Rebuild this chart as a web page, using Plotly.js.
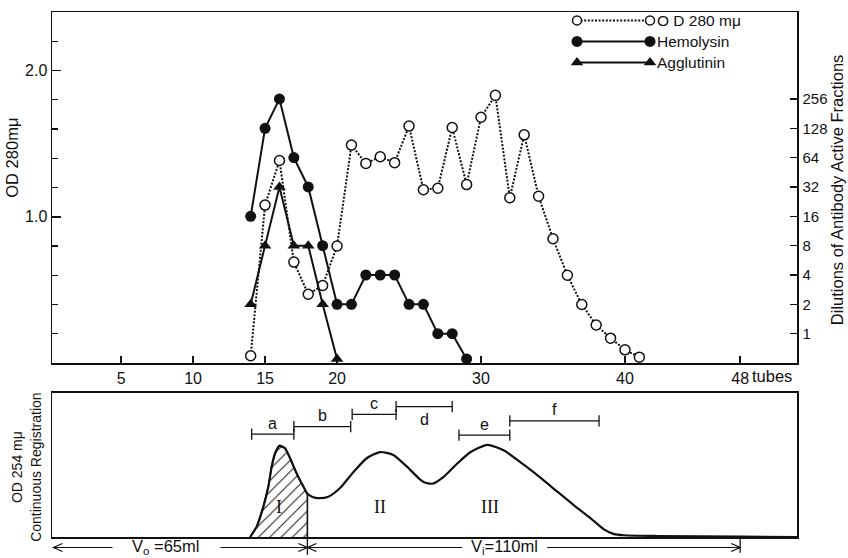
<!DOCTYPE html>
<html>
<head>
<meta charset="utf-8">
<script src="https://cdn.plot.ly/plotly-3.0.1.min.js"></script>
<style>
  html, body { margin: 0; padding: 0; background: #fff; }
  #chart { width: 848px; height: 558px; }
</style>
</head>
<body>
<div id="chart"></div>
<script>
// ---- Fraction assays (tube numbers) ----
const tubesOD = [14, 15, 16, 17, 18, 19, 20, 21, 22, 23, 24, 25, 26, 27, 28, 29, 30, 31, 32, 33, 34, 35, 36, 37, 38, 39, 40, 41];
const od280 = [0.05, 1.08, 1.385, 0.69, 0.47, 0.53, 0.80, 1.49, 1.365, 1.41, 1.37, 1.62, 1.185, 1.195, 1.61, 1.22, 1.68, 1.83, 1.13, 1.56, 1.14, 0.85, 0.60, 0.40, 0.26, 0.17, 0.09, 0.04];

const tubesHemolysin = [14, 15, 16, 17, 18, 19, 20, 21, 22, 23, 24, 25, 26, 27, 28, 29];
const hemolysin = [16, 128, 256, 64, 32, 8, 2, 2, 4, 4, 4, 2, 2, 1, 1, 0.55];

const tubesAgglutinin = [14, 15, 16, 17, 18, 19, 20];
const agglutinin = [2, 8, 32, 8, 8, 2, 0.55];

// ---- Tick labels ----
const tubeTicks = [5, 10, 15, 20, 30, 40, 48];
const tubeTickText = ['5', '10', '15', '20', '30', '40', '48'];
const odTicks = [1, 2];
const odTickText = ['1.0', '2.0'];
const dilutionTicks = [1, 2, 4, 8, 16, 32, 64, 128, 256];

// ---- Continuous OD 254 recording (x in tube units) ----
const recTube = [13.96, 14.42, 14.88, 15.23, 15.46, 15.69, 15.99, 16.39, 16.74, 17.2, 17.66, 17.94,
  18.3, 18.7, 19.4, 20.21, 21.13, 22.06, 22.99, 23.91, 24.84, 25.76, 26.04, 26.62, 27.43, 28.35,
  29.28, 30.44, 31.6, 32.99, 34.15, 35.3, 36.46, 37.62, 38.54, 39.24, 39.93, 42.24, 48.03, 51.95];
const recOD254 = [0, 0.072, 0.21, 0.35, 0.49, 0.58, 0.634, 0.616, 0.547, 0.44, 0.35, 0.30,
  0.278, 0.27, 0.28, 0.34, 0.45, 0.547, 0.59, 0.57, 0.49, 0.40, 0.38, 0.37, 0.42, 0.51,
  0.59, 0.64, 0.60, 0.50, 0.41, 0.315, 0.22, 0.13, 0.053, 0.02, 0.012, 0.007, 0.002, 0];

const voidTube = 17.94;   // end of V0 = 65 ml
const lastTube = 48;      // end of Vi = 110 ml
const voidLabel = 'V<sub>o</sub> =65ml';
const innerLabel = 'V<sub>i</sub>=110ml';

// Pooled fractions a–f (tube ranges)
const poolNames = ['a', 'b', 'c', 'd', 'e', 'f'];
const poolStart = [14.07, 17.0, 21.05, 24.1, 28.47, 32.0];
const poolEnd = [17.0, 20.95, 24.1, 28.0, 32.0, 38.2];

const peakNames = ['I', 'II', 'III'];

// ---- Styling ----
const FONT = '"Liberation Sans", Arial, sans-serif';
const SERIF = '"Liberation Serif", "DejaVu Serif", serif';
const INK = '#111';
const tubeRange = [0.2, 51.95];

// Placement of the pool bars / numerals inside the recorder panel
const poolLevel = [0.715, 0.767, 0.852, 0.905, 0.708, 0.807];
const poolLabelShift = [11, 11, 11, -13, 11, 11];
const peakAt = [16.0, 23.0, 30.6];

const traces = [];

// OD 280 (left axis), dotted with open circles
traces.push({
  x: tubesOD, y: od280, xaxis: 'x', yaxis: 'y', type: 'scatter', mode: 'lines+markers',
  line: { color: INK, width: 2, dash: '2px,1.6px' },
  marker: { symbol: 'circle', size: 10, color: '#fff', line: { color: INK, width: 1.5 } },
  cliponaxis: false, showlegend: false
});
// Hemolysin (right, log2 dilutions)
traces.push({
  x: tubesHemolysin, y: hemolysin, xaxis: 'x', yaxis: 'y2', type: 'scatter', mode: 'lines+markers',
  line: { color: INK, width: 2 },
  marker: { symbol: 'circle', size: 11, color: INK },
  cliponaxis: false, showlegend: false
});
// Agglutinin
traces.push({
  x: tubesAgglutinin, y: agglutinin, xaxis: 'x', yaxis: 'y2', type: 'scatter', mode: 'lines+markers',
  line: { color: INK, width: 2 },
  marker: { symbol: 'triangle-up', size: 11, color: INK },
  cliponaxis: false, showlegend: false
});

// Hatched peak I up to V0
const hatchX = [], hatchY = [];
recTube.forEach((t, i) => { if (t <= voidTube) { hatchX.push(t); hatchY.push(recOD254[i]); } });
hatchX.push(voidTube); hatchY.push(0);
traces.push({
  x: hatchX, y: hatchY, xaxis: 'x2', yaxis: 'y3', type: 'scatter', mode: 'lines',
  fill: 'toself', fillcolor: 'rgba(0,0,0,0)',
  fillpattern: { shape: '/', fgcolor: INK, bgcolor: 'rgba(255,255,255,0)', size: 8, solidity: 0.12 },
  line: { color: INK, width: 1.6 }, showlegend: false, hoverinfo: 'skip'
});
// Recorder trace
traces.push({
  x: recTube, y: recOD254, xaxis: 'x2', yaxis: 'y3', type: 'scatter', mode: 'lines',
  line: { color: INK, width: 2.2, shape: 'spline', smoothing: 0.6 }, showlegend: false
});
// Pool bars
poolNames.forEach((n, i) => {
  traces.push({
    x: [poolStart[i], poolEnd[i]], y: [poolLevel[i], poolLevel[i]], xaxis: 'x2', yaxis: 'y3',
    type: 'scatter', mode: 'lines+markers',
    line: { color: INK, width: 1.2 },
    marker: { symbol: 'line-ns', size: 8, line: { color: INK, width: 1.3 } },
    showlegend: false, cliponaxis: false
  });
});

// Legend samples drawn on a small overlay axis
const legendRows = [
  { name: 'O D 280 m\u03bc', line: { color: INK, width: 2, dash: '2px,1.6px' },
    marker: { symbol: 'circle', size: 9, color: '#fff', line: { color: INK, width: 1.5 } } },
  { name: 'Hemolysin', line: { color: INK, width: 2 },
    marker: { symbol: 'circle', size: 11, color: INK } },
  { name: 'Agglutinin', line: { color: INK, width: 2 },
    marker: { symbol: 'triangle-up', size: 11, color: INK } }
];
legendRows.forEach((r, i) => {
  traces.push({
    x: [0, 1], y: [i, i], xaxis: 'x3', yaxis: 'y4', type: 'scatter', mode: 'lines+markers',
    line: r.line, marker: r.marker, showlegend: false, cliponaxis: false, hoverinfo: 'skip'
  });
});

const annotations = [];
const txt = (o, size) => Object.assign({ showarrow: false, xanchor: 'center', yanchor: 'middle',
  font: { family: FONT, size: size || 16, color: INK } }, o);

legendRows.forEach((r, i) => {
  annotations.push(txt({ text: r.name, xref: 'paper', yref: 'y4', x: 0.809, y: i, xanchor: 'left' }, 15.5));
});

// Axis titles
annotations.push(txt({ text: 'OD 280m\u03bc', xref: 'paper', yref: 'paper', x: -0.054, y: 0.722, textangle: -90 }, 16.5));
annotations.push(txt({ text: 'Dilutions of Antibody Active Fractions', xref: 'paper', yref: 'paper', x: 1.054, y: 0.661, textangle: -90 }, 16.5));
annotations.push(txt({ text: 'OD 254 m\u03bc<br>Continuous Registration', xref: 'paper', yref: 'paper', x: -0.034, y: 0.133, textangle: -90 }, 14));
annotations.push(txt({ text: 'tubes', xref: 'x', yref: 'paper', x: 48, y: 0.3314, xshift: 10, yshift: -13, xanchor: 'left' }, 16.5));

// Pool letters
poolNames.forEach((n, i) => {
  annotations.push(txt({ text: n, xref: 'x2', yref: 'y3', x: (poolStart[i] + poolEnd[i]) / 2, y: poolLevel[i], yshift: poolLabelShift[i] }, 16));
});
// Peak numerals
peakNames.forEach((n, i) => {
  annotations.push(txt({ text: n, xref: 'x2', yref: 'y3', x: peakAt[i], y: 0.21, font: { family: SERIF, size: 18, color: INK } }));
});

// Volume labels under the recorder panel
const arrowY = -0.02;
annotations.push(txt({ text: voidLabel, xref: 'x2', yref: 'paper', x: 8.1, y: arrowY, yshift: 1 }, 16.5));
annotations.push(txt({ text: innerLabel, xref: 'x2', yref: 'paper', x: 31.6, y: arrowY, yshift: 1 }, 16.5));

// Volume arrows: line segments plus open chevron heads
const seg = (a, b) => ({ type: 'line', xref: 'x2', yref: 'paper', x0: a, x1: b, y0: arrowY, y1: arrowY, line: { color: INK, width: 1.2 } });
const head = (at, dir) => ({ type: 'path', xref: 'x2', yref: 'paper', xsizemode: 'pixel', ysizemode: 'pixel',
  xanchor: at, yanchor: arrowY, path: dir < 0 ? 'M 9 -4 L 0 0 L 9 4' : 'M -9 -4 L 0 0 L -9 4',
  line: { color: INK, width: 1.3 } });
const shapes = [
  seg(0.25, 4.4), seg(11.9, voidTube), seg(voidTube, 28.7), seg(34.6, lastTube),
  head(0.3, -1), head(voidTube, 1), head(voidTube, -1), head(lastTube, 1),
  { type: 'line', xref: 'x2', yref: 'paper', x0: voidTube, x1: voidTube, y0: 0, y1: -0.034, line: { color: INK, width: 1.3 } },
  { type: 'line', xref: 'x2', yref: 'paper', x0: lastTube, x1: lastTube, y0: 0, y1: -0.03, line: { color: INK, width: 1.3 } }
];

const axisBase = { showgrid: false, zeroline: false, showline: true, linecolor: INK, linewidth: 1.5, color: INK,
  tickfont: { family: FONT, size: 16, color: INK } };

const layout = {
  width: 848, height: 558,
  margin: { l: 52, r: 51, t: 12, b: 21 },
  paper_bgcolor: '#fff', plot_bgcolor: '#fff',
  font: { family: FONT, color: INK },
  showlegend: false,
  xaxis: Object.assign({}, axisBase, {
    domain: [0, 1], anchor: 'y', range: tubeRange, tickmode: 'array', tickvals: tubeTicks, ticktext: tubeTickText,
    ticks: 'inside', ticklen: 7, tickwidth: 1.3, tickcolor: INK, mirror: true
  }),
  yaxis: Object.assign({}, axisBase, {
    domain: [0.3314, 1], anchor: 'x', range: [0, 2.4], tickmode: 'array', tickvals: odTicks, ticktext: odTickText,
    ticks: 'inside', ticklen: 9, tickwidth: 1.5, tickcolor: INK,
    minor: { tickmode: 'linear', tick0: 0, dtick: 0.2, ticks: 'inside', ticklen: 6, tickwidth: 1.2, tickcolor: INK, showgrid: false }
  }),
  yaxis2: Object.assign({}, axisBase, {
    overlaying: 'y', side: 'right', anchor: 'x', type: 'log', range: [Math.log10(0.5), 3.30],
    tickmode: 'array', tickvals: dilutionTicks, ticktext: dilutionTicks.map(String),
    ticks: 'inside', ticklen: 7, tickwidth: 1.3, tickcolor: INK, ticklabelstandoff: 1,
    tickfont: { family: FONT, size: 15, color: INK }
  }),
  xaxis2: Object.assign({}, axisBase, {
    domain: [0, 1], anchor: 'y3', range: tubeRange, showticklabels: false, ticks: '', mirror: true
  }),
  yaxis3: Object.assign({}, axisBase, {
    domain: [0, 0.2743], anchor: 'x2', range: [0, 1], showticklabels: false, ticks: '', mirror: true
  }),
  xaxis3: { domain: [0.7047, 0.8027], anchor: 'y4', range: [0, 1], visible: false, fixedrange: true },
  yaxis4: { domain: [0.88, 1.0], anchor: 'x3', range: [2.6, -0.4], visible: false, fixedrange: true },
  annotations: annotations,
  shapes: shapes
};

Plotly.newPlot('chart', traces, layout, { staticPlot: true, displayModeBar: false });
</script>
</body>
</html>
